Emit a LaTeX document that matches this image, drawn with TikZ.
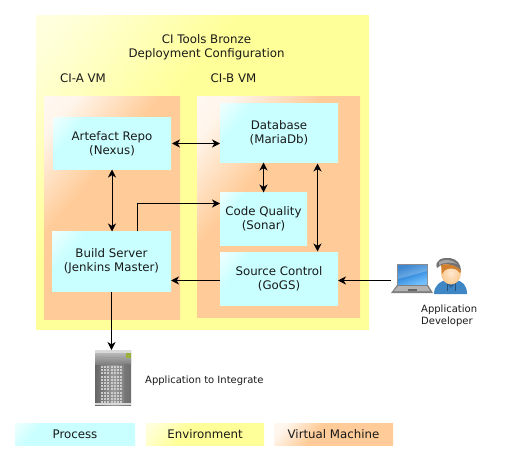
\documentclass[tikz,border=0pt]{standalone}
\usepackage{fontspec}
\setmainfont{DejaVu Sans}
\usetikzlibrary{arrows.meta,shadings,calc}
\definecolor{procc}{HTML}{C9FFFF}
\definecolor{envc}{HTML}{FFFF99}
\definecolor{vmc}{HTML}{FFCC99}
\definecolor{skinc}{HTML}{FBC98E}
\definecolor{hoodc}{HTML}{3F86C4}
\pgfdeclarehorizontalshading{procshade}{100bp}{color(0bp)=(white); color(15bp)=(white!70!procc); color(29bp)=(procc); color(100bp)=(procc)}
\pgfdeclarehorizontalshading{envshade}{100bp}{color(0bp)=(white); color(20bp)=(white!60!envc); color(39bp)=(envc); color(100bp)=(envc)}
\pgfdeclarehorizontalshading{vmshade}{100bp}{color(0bp)=(white); color(22bp)=(white!80!vmc); color(40bp)=(vmc); color(100bp)=(vmc)}
\tikzset{
  x=1bp,y=-1bp,
  boxbase/.style={inner sep=0pt,outer sep=0pt,shade,shading angle=-40,align=center,text=black!90,font=\fontsize{11.8bp}{14bp}\selectfont,anchor=north west},
  proc/.style={boxbase,shading=procshade},
  envb/.style={boxbase,shading=envshade},
  vmb/.style={boxbase,shading=vmshade},
  lab/.style={inner sep=0pt,align=center,text=black!90,font=\fontsize{11.8bp}{14bp}\selectfont},
  smalllab/.style={inner sep=0pt,align=left,text=black!90,font=\fontsize{10bp}{12bp}\selectfont},
  conn/.style={line width=1bp,black,>={Stealth[length=8bp,width=8bp,inset=2.4bp]}},
}
\begin{document}
\begin{tikzpicture}
\useasboundingbox (0,0) rectangle (505,461);
% containers
\node[envb,minimum width=333bp,minimum height=314bp] (env) at (36,15.5) {};
\node[vmb,minimum width=136bp,minimum height=223bp] (vma) at (44,96.5) {};
\node[vmb,minimum width=163bp,minimum height=221bp] (vmb) at (197,96.5) {};
\node[lab] (title) at (206.5,47) {CI Tools Bronze\\Deployment Configuration};
\node[lab] (vmalabel) at (83,78.5) {CI-A VM};
\node[lab] (vmblabel) at (233.5,78.5) {CI-B VM};
% processes
\node[proc,minimum width=118bp,minimum height=52bp] (artefact) at (53,117.5) {Artefact Repo\\(Nexus)};
\node[proc,minimum width=119bp,minimum height=60bp] (build) at (52,231.5) {Build Server\\(Jenkins Master)};
\node[proc,minimum width=118bp,minimum height=59bp] (database) at (220,103.5) {Database\\(MariaDb)};
\node[proc,minimum width=87bp,minimum height=53bp] (code) at (220,192.5) {Code Quality\\(Sonar)};
\node[proc,minimum width=118bp,minimum height=53bp] (source) at (220,252.5) {Source Control\\(GoGS)};
% server icon
\coordinate (srv) at (95,350);
\begin{scope}[shift={(srv)}]
  \shade[left color=black!60,right color=black!55,middle color=black!40] (0,0) rectangle (36,55);
  \fill[black!15] (0,0) rectangle (36,3);
  \shade[top color=black!28,bottom color=black!50] (0,3) rectangle (36,14);
  \fill[black!38] (5,7) rectangle (25,9);
  \fill[yellow!70!green!75!black] (31,3) rectangle (36,8);
  \foreach \r in {0,...,11} \foreach \c in {0,...,6}
    \fill[black!20] ({6+\c*3.2},{16+\r*3.2}) rectangle ++(2,2);
  \fill[black!60,opacity=.35] (29,14) rectangle (36,55);
  \fill[black!15] (0,53) rectangle (36,55);
\end{scope}
\node[inner sep=0pt,minimum width=36bp,minimum height=55bp,anchor=north west] (server) at (95,350) {};
% laptop icon
\coordinate (lap) at (391,264);
\begin{scope}[shift={(lap)}]
  \fill[black!45] (6,0) rectangle (37,21);
  \shade[left color=cyan!50!blue!75!black,right color=cyan!55!blue!55,shading angle=20] (7,1) rectangle (36,20);
  \fill[white,opacity=.25] (7,1) -- (36,1) -- (36,7) -- (7,15) -- cycle;
  \fill[black!50] (6,21) -- (37,21) -- (42,29) -- (0,29) -- cycle;
  \fill[black!30] (7,22) -- (36,22) -- (39,27) -- (3,27) -- cycle;
  \fill[black!60] (17,25) rectangle (26,27);
\end{scope}
\node[inner sep=0pt,minimum width=42bp,minimum height=30bp,anchor=north west] (laptop) at (391,264) {};
% person icon
\coordinate (per) at (434,258);
\begin{scope}[shift={(per)}]
  \fill[hoodc] (0,36) .. controls (0,27) and (7,23) .. (12,22) -- (22,22) .. controls (28,23) and (33,27) .. (33,36) -- cycle;
  \draw[hoodc!60!black,line width=.6bp] (13,24) -- (13,33) (21,24) -- (21,33);
  \fill[hoodc!75!black] (10,22) -- (17,30) -- (24,22) -- cycle;
  \shade[inner color=skinc!40!white,outer color=skinc] (17,15) ellipse (10 and 11.5);
  \fill[black!55] (3,10) .. controls (0,2) and (9,-1) .. (16,0) .. controls (23,1) and (27,6) .. (27,13) .. controls (22,7) and (14,5) .. (7,7) -- cycle;
  \fill[black!35] (5,4) .. controls (10,1) and (18,1) .. (23,6) .. controls (18,4) and (10,4) .. (5,7) -- cycle;
  \fill[brown!70!orange] (7,7) .. controls (13,5) and (22,7) .. (27,13) .. controls (26,18) and (25,12) .. (21,11) .. controls (16,10) and (11,10) .. (8,16) -- cycle;
\end{scope}
\node[inner sep=0pt,minimum width=33bp,minimum height=36bp,anchor=north west] (person) at (434,258) {};
% labels
\node[smalllab,anchor=north west] (devlabel) at (421,305) {Application\\Developer};
\node[smalllab,anchor=west] (applabel) at (145,381) {Application to Integrate};
% legend
\node[proc,minimum width=120bp,minimum height=22bp] (lgproc) at (15,423) {Process};
\node[envb,minimum width=118bp,minimum height=22bp] (lgenv) at (146,423) {Environment};
\node[vmb,minimum width=119bp,minimum height=22bp] (lgvm) at (274,423) {Virtual Machine};
% connectors
\draw[conn,<->] (artefact.east) ++(1,0) -- (database.west |- artefact.east);
\draw[conn,<->] (artefact.south) -- (artefact.south |- build.north);
\draw[conn,->] ($(build.north west)!0.7143!(build.north east)$) |- ([yshift=15.5bp]code.west);
\draw[conn,<->] (code.north) -- (code.north |- database.south);
\draw[conn,<->] ([xshift=39bp]code.north -| database.south) ++(-.5,-29) -- ++(0,88);
\draw[conn,->] ([yshift=-1.5bp]source.west) -- ([yshift=-1.5bp]source.west -| build.east);
\draw[conn,->] ([yshift=-1.5bp]laptop.west |- source.east) -- ([yshift=-1.5bp]source.east);
\draw[conn,->] (build.south) -- (build.south |- server.north);
\end{tikzpicture}
\end{document}
